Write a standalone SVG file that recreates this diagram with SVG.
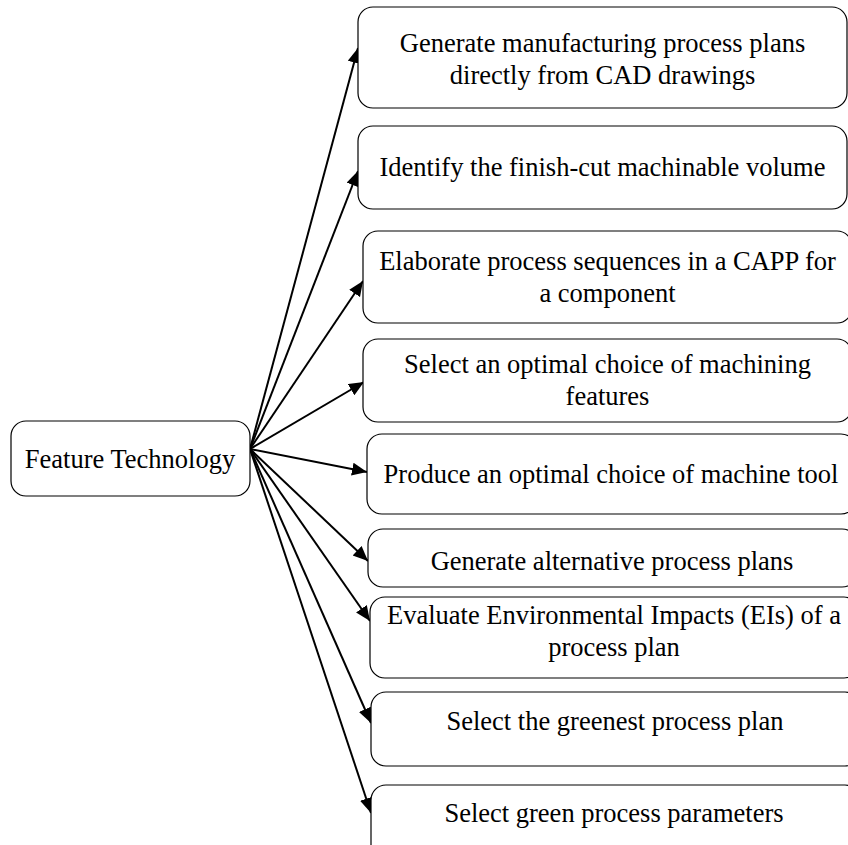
<svg xmlns="http://www.w3.org/2000/svg" width="848" height="845" viewBox="0 0 848 845">
<style>
.box{fill:#fff;stroke:#000;stroke-width:1.2}
.t{font-family:"Liberation Serif","Times New Roman",serif;font-size:26.5px;fill:#000;text-anchor:middle}
.c{stroke:#000;stroke-width:2;fill:none;marker-end:url(#ah)}
</style>
<defs>
<marker id="ah" markerUnits="userSpaceOnUse" markerWidth="16" markerHeight="14" refX="15" refY="6.5" orient="auto">
<path d="M0,0 L15,6.5 L0,13 z" fill="#000"/>
</marker>
</defs>
<rect width="848" height="845" fill="#fff"/>
<g id="connectors">
<line class="c" x1="250" y1="449" x2="358" y2="48"/>
<line class="c" x1="250" y1="449" x2="358" y2="171"/>
<line class="c" x1="250" y1="449" x2="363" y2="281"/>
<line class="c" x1="250" y1="449" x2="364" y2="382"/>
<line class="c" x1="250" y1="449" x2="367" y2="472"/>
<line class="c" x1="250" y1="449" x2="368" y2="561"/>
<line class="c" x1="250" y1="449" x2="370" y2="621"/>
<line class="c" x1="250" y1="449" x2="371" y2="723"/>
<line class="c" x1="250" y1="449" x2="371" y2="813"/>
</g>
<g id="feature-technology">
<rect class="box" x="11" y="421" width="239" height="75" rx="15"/>
<text class="t" x="130" y="468">Feature Technology</text>
</g>
<g id="n1">
<rect class="box" x="358" y="7" width="489" height="101" rx="15"/>
<text class="t" x="602.5" y="52">Generate manufacturing process plans</text>
<text class="t" x="602.5" y="84">directly from CAD drawings</text>
</g>
<g id="n2">
<rect class="box" x="358" y="126" width="489" height="83" rx="15"/>
<text class="t" x="602.5" y="176">Identify the finish-cut machinable volume</text>
</g>
<g id="n3">
<rect class="box" x="363" y="231" width="489" height="92" rx="15"/>
<text class="t" x="607.5" y="270">Elaborate process sequences in a CAPP for</text>
<text class="t" x="607.5" y="302">a component</text>
</g>
<g id="n4">
<rect class="box" x="363" y="339" width="489" height="83" rx="15"/>
<text class="t" x="607.5" y="373">Select an optimal choice of machining</text>
<text class="t" x="607.5" y="405">features</text>
</g>
<g id="n5">
<rect class="box" x="367" y="434" width="489" height="80" rx="15"/>
<text class="t" x="611" y="483">Produce an optimal choice of machine tool</text>
</g>
<g id="n6">
<rect class="box" x="368" y="529" width="489" height="58" rx="15"/>
<text class="t" x="612" y="570">Generate alternative process plans</text>
</g>
<g id="n7">
<rect class="box" x="370" y="597" width="489" height="81" rx="15"/>
<text class="t" x="614" y="624">Evaluate Environmental Impacts (EIs) of a</text>
<text class="t" x="614" y="656">process plan</text>
</g>
<g id="n8">
<rect class="box" x="371" y="692" width="489" height="74" rx="15"/>
<text class="t" x="615" y="730">Select the greenest process plan</text>
</g>
<g id="n9">
<rect class="box" x="371" y="785" width="489" height="80" rx="15"/>
<text class="t" x="614" y="822">Select green process parameters</text>
</g>
</svg>
